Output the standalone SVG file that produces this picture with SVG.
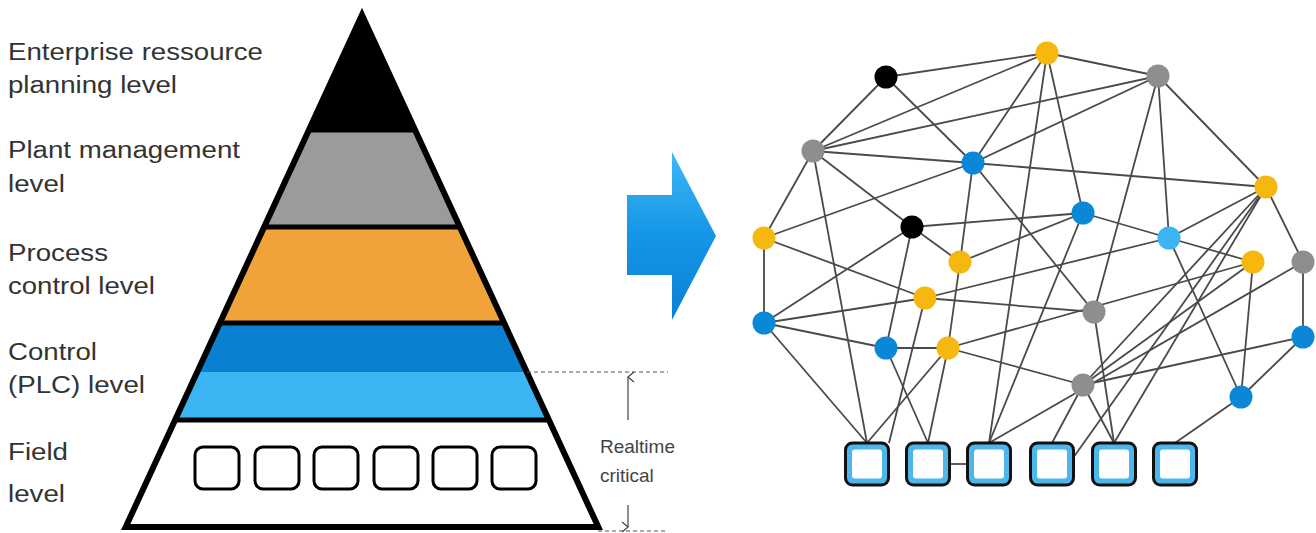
<svg xmlns="http://www.w3.org/2000/svg" width="1316" height="533" viewBox="0 0 1316 533">
<defs>
<style>
.lbl{font-family:"Liberation Sans",Arial,sans-serif;font-size:23.5px;fill:#333;}
.sm{font-family:"Liberation Sans",Arial,sans-serif;font-size:19px;fill:#444;}
.e{stroke:#4a4a4a;stroke-width:1.8;fill:none;}
.sep{stroke:#000;stroke-width:5;}
.fb{fill:#fff;stroke:#000;stroke-width:3;}
.y{fill:#f6b80f;}
.b{fill:#0b87d8;}
.lb{fill:#3cb4f2;}
.g{fill:#8e8e8e;}
.k{fill:#000;}
.sq{fill:#4db6ec;stroke:#111;stroke-width:3;}
.sqi{fill:#fff;}
</style>
<linearGradient id="arr" x1="0" y1="0" x2="0" y2="1">
<stop offset="0" stop-color="#3fb6f5"/>
<stop offset="0.5" stop-color="#1496e6"/>
<stop offset="1" stop-color="#0b7fd2"/>
</linearGradient>
<marker id="ah" markerWidth="12" markerHeight="12" refX="6" refY="1" orient="auto-start-reverse" markerUnits="userSpaceOnUse">
<path d="M1,7 L6,1 L11,7" fill="none" stroke="#444" stroke-width="1.2"/>
</marker>
</defs>
<rect width="1316" height="533" fill="#fff"/>

<g id="labels">
<text class="lbl" x="8" y="60" textLength="255" lengthAdjust="spacingAndGlyphs">Enterprise ressource</text>
<text class="lbl" x="8" y="93" textLength="169" lengthAdjust="spacingAndGlyphs">planning level</text>
<text class="lbl" x="8" y="158" textLength="232" lengthAdjust="spacingAndGlyphs">Plant management</text>
<text class="lbl" x="8" y="192" textLength="57" lengthAdjust="spacingAndGlyphs">level</text>
<text class="lbl" x="8" y="261" textLength="100" lengthAdjust="spacingAndGlyphs">Process</text>
<text class="lbl" x="8" y="294" textLength="147" lengthAdjust="spacingAndGlyphs">control level</text>
<text class="lbl" x="8" y="360" textLength="89" lengthAdjust="spacingAndGlyphs">Control</text>
<text class="lbl" x="8" y="393" textLength="137" lengthAdjust="spacingAndGlyphs">(PLC) level</text>
<text class="lbl" x="8" y="460" textLength="60" lengthAdjust="spacingAndGlyphs">Field</text>
<text class="lbl" x="8" y="502" textLength="57" lengthAdjust="spacingAndGlyphs">level</text>
</g>

<g id="pyramid">
<polygon points="362,15 415.1,130 308.9,130" fill="#000"/>
<polygon points="308.9,130 415.1,130 459.8,227 264.2,227" fill="#9b9b9b"/>
<polygon points="264.2,227 459.8,227 504.1,323 219.9,323" fill="#f0a33a"/>
<polygon points="219.9,323 504.1,323 526.8,372 197.2,372" fill="#0a80d0"/>
<polygon points="197.2,372 526.8,372 548.9,420 175.1,420" fill="#3db5f5"/>
<polygon points="175.1,420 548.9,420 598.3,527 125.7,527" fill="#fff"/>
<line class="sep" x1="308" y1="130" x2="416" y2="130"/>
<line class="sep" x1="263" y1="227" x2="461" y2="227"/>
<line class="sep" x1="219" y1="323" x2="505" y2="323"/>
<line class="sep" x1="174" y1="420" x2="550" y2="420"/>
<polygon points="362,15 598.3,527 125.7,527" fill="none" stroke="#000" stroke-width="6" stroke-linejoin="miter"/>
</g>

<g id="field-devices">
<rect class="fb" x="195" y="447" width="44" height="42" rx="8"/>
<rect class="fb" x="255" y="447" width="44" height="42" rx="8"/>
<rect class="fb" x="314" y="447" width="44" height="42" rx="8"/>
<rect class="fb" x="374" y="447" width="44" height="42" rx="8"/>
<rect class="fb" x="433" y="447" width="44" height="42" rx="8"/>
<rect class="fb" x="492" y="447" width="44" height="42" rx="8"/>
</g>

<g id="realtime">
<line x1="527" y1="372" x2="668" y2="372" stroke="#555" stroke-width="1.2" stroke-dasharray="4,3"/>
<line x1="598" y1="531" x2="668" y2="531" stroke="#555" stroke-width="1.2" stroke-dasharray="4,3"/>
<line x1="628" y1="420" x2="628" y2="377" stroke="#444" stroke-width="1.2" marker-end="url(#ah)"/>
<line x1="628" y1="505" x2="628" y2="527" stroke="#444" stroke-width="1.2" marker-end="url(#ah)"/>
<text class="sm" x="600" y="453">Realtime</text>
<text class="sm" x="600" y="482">critical</text>
</g>

<g id="arrow">
<polygon points="627,195 672,195 672,152 716,236 672,320 672,275 627,275" fill="url(#arr)"/>
</g>

<g id="connectors" class="e">
<line x1="886" y1="77" x2="1047" y2="53"/>
<line x1="886" y1="77" x2="813" y2="151"/>
<line x1="886" y1="77" x2="973" y2="163"/>
<line x1="1047" y1="53" x2="1158" y2="76"/>
<line x1="1047" y1="53" x2="813" y2="151"/>
<line x1="1047" y1="53" x2="973" y2="163"/>
<line x1="1047" y1="53" x2="1083" y2="213"/>
<line x1="1047" y1="53" x2="989" y2="443"/>
<line x1="1158" y1="76" x2="813" y2="151"/>
<line x1="1158" y1="76" x2="973" y2="163"/>
<line x1="1158" y1="76" x2="1266" y2="187"/>
<line x1="1158" y1="76" x2="1169" y2="238"/>
<line x1="1158" y1="76" x2="1094" y2="312"/>
<line x1="813" y1="151" x2="973" y2="163"/>
<line x1="813" y1="151" x2="912" y2="227"/>
<line x1="813" y1="151" x2="764" y2="238"/>
<line x1="813" y1="151" x2="867" y2="443"/>
<line x1="973" y1="163" x2="1266" y2="187"/>
<line x1="973" y1="163" x2="764" y2="238"/>
<line x1="973" y1="163" x2="960" y2="262"/>
<line x1="973" y1="163" x2="1094" y2="312"/>
<line x1="1266" y1="187" x2="1169" y2="238"/>
<line x1="1266" y1="187" x2="1303" y2="262"/>
<line x1="1266" y1="187" x2="1083" y2="385"/>
<line x1="1266" y1="187" x2="1073" y2="458"/>
<line x1="1266" y1="187" x2="1114" y2="443"/>
<line x1="912" y1="227" x2="1083" y2="213"/>
<line x1="912" y1="227" x2="960" y2="262"/>
<line x1="912" y1="227" x2="764" y2="323"/>
<line x1="912" y1="227" x2="886" y2="348"/>
<line x1="1083" y1="213" x2="1169" y2="238"/>
<line x1="1083" y1="213" x2="960" y2="262"/>
<line x1="1083" y1="213" x2="989" y2="443"/>
<line x1="764" y1="238" x2="925" y2="298"/>
<line x1="764" y1="238" x2="764" y2="323"/>
<line x1="1169" y1="238" x2="1253" y2="262"/>
<line x1="1169" y1="238" x2="1241" y2="397"/>
<line x1="1169" y1="238" x2="925" y2="298"/>
<line x1="960" y1="262" x2="948" y2="348"/>
<line x1="948" y1="348" x2="928" y2="443"/>
<line x1="1253" y1="262" x2="1241" y2="397"/>
<line x1="1253" y1="262" x2="948" y2="348"/>
<line x1="1253" y1="262" x2="1083" y2="385"/>
<line x1="1303" y1="262" x2="1303" y2="337"/>
<line x1="1303" y1="262" x2="989" y2="443"/>
<line x1="925" y1="298" x2="1094" y2="312"/>
<line x1="925" y1="298" x2="764" y2="323"/>
<line x1="925" y1="298" x2="889" y2="443"/>
<line x1="1094" y1="312" x2="1114" y2="443"/>
<line x1="764" y1="323" x2="886" y2="348"/>
<line x1="764" y1="323" x2="867" y2="443"/>
<line x1="886" y1="348" x2="948" y2="348"/>
<line x1="886" y1="348" x2="928" y2="443"/>
<line x1="948" y1="348" x2="867" y2="443"/>
<line x1="948" y1="348" x2="1083" y2="385"/>
<line x1="1303" y1="337" x2="1241" y2="397"/>
<line x1="1303" y1="337" x2="1083" y2="385"/>
<line x1="1083" y1="385" x2="1052" y2="443"/>
<line x1="1083" y1="385" x2="1114" y2="443"/>
<line x1="1241" y1="397" x2="1175" y2="443"/>
<line x1="949" y1="464" x2="967" y2="464"/>
</g>

<g id="n-A"><circle class="k" cx="886" cy="77" r="11.5"/></g>
<g id="n-B"><circle class="y" cx="1047" cy="53" r="11.5"/></g>
<g id="n-C"><circle class="g" cx="1158" cy="76" r="11.5"/></g>
<g id="n-D"><circle class="g" cx="813" cy="151" r="11.5"/></g>
<g id="n-E"><circle class="b" cx="973" cy="163" r="11.5"/></g>
<g id="n-F"><circle class="y" cx="1266" cy="187" r="11.5"/></g>
<g id="n-G"><circle class="k" cx="912" cy="227" r="11.5"/></g>
<g id="n-H"><circle class="b" cx="1083" cy="213" r="11.5"/></g>
<g id="n-I"><circle class="y" cx="764" cy="238" r="11.5"/></g>
<g id="n-J"><circle class="lb" cx="1169" cy="238" r="11.5"/></g>
<g id="n-K"><circle class="y" cx="960" cy="262" r="11.5"/></g>
<g id="n-L"><circle class="y" cx="1253" cy="262" r="11.5"/></g>
<g id="n-M"><circle class="g" cx="1303" cy="262" r="11.5"/></g>
<g id="n-N"><circle class="y" cx="925" cy="298" r="11.5"/></g>
<g id="n-O"><circle class="g" cx="1094" cy="312" r="11.5"/></g>
<g id="n-P"><circle class="b" cx="764" cy="323" r="11.5"/></g>
<g id="n-Q"><circle class="b" cx="886" cy="348" r="11.5"/></g>
<g id="n-R"><circle class="y" cx="948" cy="348" r="11.5"/></g>
<g id="n-S"><circle class="b" cx="1303" cy="337" r="11.5"/></g>
<g id="n-T"><circle class="g" cx="1083" cy="385" r="11.5"/></g>
<g id="n-U"><circle class="b" cx="1241" cy="397" r="11.5"/></g>

<g id="dev-1"><rect class="sq" x="845.5" y="443" width="43" height="42" rx="7"/><rect class="sqi" x="852" y="449.5" width="30" height="29" rx="3"/></g>
<g id="dev-2"><rect class="sq" x="906.5" y="443" width="43" height="42" rx="7"/><rect class="sqi" x="913" y="449.5" width="30" height="29" rx="3"/></g>
<g id="dev-3"><rect class="sq" x="967.5" y="443" width="43" height="42" rx="7"/><rect class="sqi" x="974" y="449.5" width="30" height="29" rx="3"/></g>
<g id="dev-4"><rect class="sq" x="1030.5" y="443" width="43" height="42" rx="7"/><rect class="sqi" x="1037" y="449.5" width="30" height="29" rx="3"/></g>
<g id="dev-5"><rect class="sq" x="1092.5" y="443" width="43" height="42" rx="7"/><rect class="sqi" x="1099" y="449.5" width="30" height="29" rx="3"/></g>
<g id="dev-6"><rect class="sq" x="1153.5" y="443" width="43" height="42" rx="7"/><rect class="sqi" x="1160" y="449.5" width="30" height="29" rx="3"/></g>
</svg>
